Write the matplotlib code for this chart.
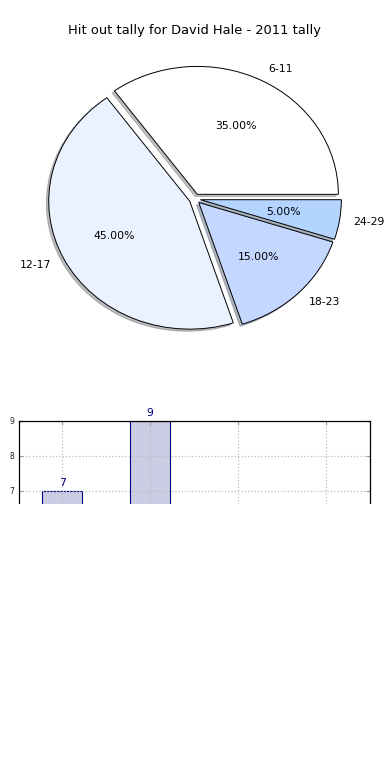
import matplotlib
matplotlib.use("Agg")
import matplotlib.pyplot as plt

title = "Hit out tally for David Hale - 2011 tally"
categories = ["6-11", "12-17", "18-23", "24-29"]
counts = [7, 9, 3, 1]
pie_colors = ["#FFFFFF", "#EBF2FF", "#C4D8FF", "#B3D4FF"]

fig = plt.figure(figsize=(3.9, 7.8), dpi=100)

# Pie
ax1 = fig.add_axes([0.0474, 0.540, 0.904, 0.410])
wedges, texts, autotexts = ax1.pie(
    counts, labels=categories, colors=pie_colors, explode=[0.04] * 4,
    autopct="%1.2f%%", shadow={"ox": -0.012, "oy": -0.012, "shade": 0.5},
    startangle=0,
    wedgeprops=dict(edgecolor="black", linewidth=0.7),
    textprops=dict(fontsize=7.8, color="black"))
ax1.set_aspect("auto")
ax1.set_xlim(-1.25, 1.25)
ax1.set_ylim(-1.25, 1.25)
ax1.set_title(title, fontsize=9.4, pad=3.5)

# Bars
ax2 = fig.add_axes([0.0487, 0.0564, 0.9, 0.4039])
x = list(range(len(categories)))
bars = ax2.bar(x, counts, width=0.45, color="#CCCCE5", edgecolor="#000080",
               linewidth=0.8)
for xi, c in zip(x, counts):
    ax2.annotate(str(c), (xi, c), xytext=(0, 2), textcoords="offset points",
                 ha="center", va="bottom", fontsize=7.8, color="#000080")
ax2.set_xlim(-0.49, 3.5)
ax2.set_ylim(0, 9)
ax2.set_yticks(range(0, 10))
ax2.set_xticks(x)
ax2.set_xticklabels(categories, fontsize=5.5)
ax2.tick_params(axis="both", direction="in", top=True, right=True,
                labelsize=5.5, length=3, colors="#999999", labelcolor="#222222")
ax2.grid(True, linestyle=":", color="#BBBBBB", linewidth=0.9)
ax2.set_axisbelow(False)
for s in ax2.spines.values():
    s.set_linewidth(0.9)
    s.set_zorder(3)

# White cover over lower region
cover = fig.add_axes([0, 0, 1, 1 - 504 / 780])
cover.set_facecolor("white")
cover.set_xticks([])
cover.set_yticks([])
for s in cover.spines.values():
    s.set_visible(False)
cover.set_zorder(10)

fig.savefig("out.png", dpi=100)
